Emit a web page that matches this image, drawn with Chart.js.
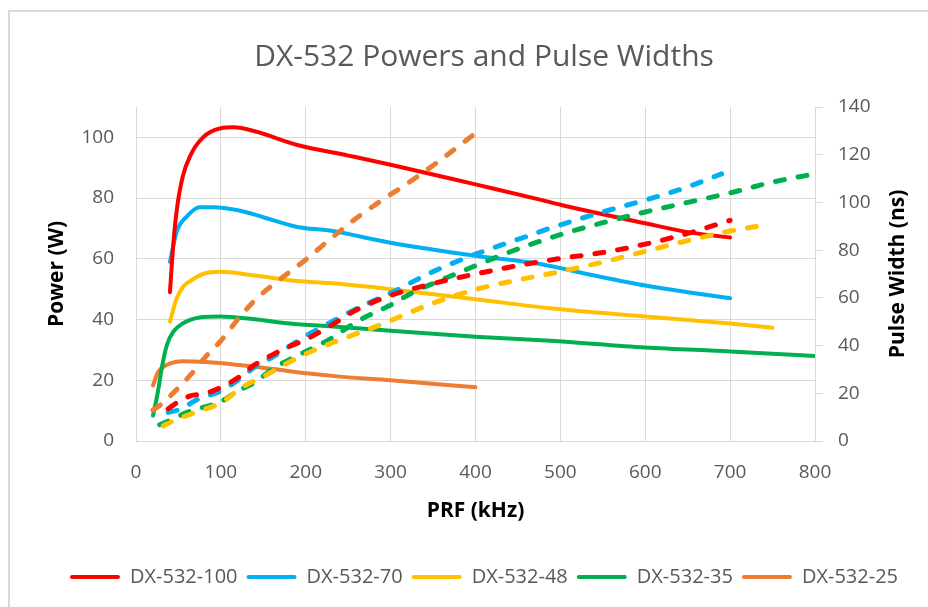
<!DOCTYPE html>
<html>
<head>
<meta charset="utf-8">
<title>DX-532 Powers and Pulse Widths</title>
<script src="https://cdn.jsdelivr.net/npm/chart.js"></script>
<style>
  html, body { margin: 0; padding: 0; background: #fff; overflow: hidden; }
  #wrap { position: relative; width: 928px; height: 607px; }
  #frame { position: absolute; left: 8px; top: 10px; right: -20px; bottom: -20px;
           border: 2px solid #d9d9d9; pointer-events: none; }
</style>
</head>
<body>
<div id="wrap">
  <canvas id="dxChart" width="928" height="607"></canvas>
  <div id="frame"></div>
</div>
<script>
// Series names (legend)
const seriesNames = ['DX-532-100', 'DX-532-70', 'DX-532-48', 'DX-532-35', 'DX-532-25'];
const seriesColors = ['#ff0000', '#00b0f0', '#ffc000', '#00b050', '#ed7d31'];

// Power (W) vs PRF (kHz) - solid lines, left axis
const power100 = [[40, 49], [44, 65], [48, 76], [55, 87], [64, 94], [79, 100], [100, 103], [115, 103.3], [140, 102], [190, 97.5], [250, 94], [300, 91], [400, 84.5], [476, 79.5], [500, 77.8], [600, 71.7], [650, 68.8], [700, 67]];
const power70 = [[40, 59], [48, 69], [60, 74], [75, 77], [91, 77], [120, 76], [150, 73.7], [190, 70.5], [228, 69.3], [300, 65.3], [400, 61], [476, 58.3], [540, 54.5], [600, 51.2], [650, 49], [700, 47]];
const power48 = [[40, 39.3], [48, 47], [56, 51], [64, 52.7], [79, 55], [99, 55.7], [140, 54.5], [190, 52.7], [228, 52], [300, 50], [400, 46.7], [488, 43.7], [600, 41], [700, 38.7], [750, 37.3]];
const power35 = [[20, 8.4], [25, 15], [31, 25], [36.5, 31.7], [44, 36], [55, 38.7], [75, 40.7], [99, 41], [142, 40], [181, 38.7], [232, 37.7], [300, 36.3], [400, 34.3], [488, 33], [600, 30.8], [700, 29.5], [800, 28]];
const power25 = [[20, 18.3], [26, 22.7], [36, 25], [55, 26.3], [83, 26], [122, 25], [162, 23.7], [201, 22.3], [240, 21.2], [300, 20], [400, 17.7]];

// Pulse width (ns) vs PRF (kHz) - dashed lines, right axis
const width100 = [[38, 13.5], [50, 16.5], [65, 19], [80, 19.8], [100, 22.5], [120, 26.5], [140, 32], [160, 36], [180, 39.5], [200, 42.5], [230, 48.5], [260, 55], [300, 61], [350, 66], [400, 70], [450, 73.5], [500, 76.5], [550, 79], [600, 82.5], [650, 87], [700, 92.5]];
const width70 = [[38, 12], [54, 13.5], [70, 17], [100, 21], [120, 25.5], [140, 31], [160, 35], [200, 44], [228, 49.5], [260, 55.5], [300, 62], [350, 71], [400, 78.3], [450, 84.5], [488, 89.2], [550, 96], [600, 101], [650, 106.5], [690, 112]];
const width48 = [[32, 6.3], [45, 8.6], [70, 12], [100, 16], [125, 22.5], [150, 27], [175, 32], [200, 36.5], [230, 41], [260, 45], [290, 49], [320, 53.5], [350, 57.8], [400, 63.5], [450, 67.5], [500, 71], [550, 75], [600, 79.5], [650, 84], [700, 88], [740, 90.5]];
const width35 = [[28, 6.8], [42, 9], [60, 12], [80, 14.2], [100, 16.5], [120, 21], [140, 24.5], [160, 30], [180, 34], [200, 37.5], [228, 42.6], [260, 50], [300, 57], [330, 63], [350, 66], [400, 73.5], [450, 80.5], [500, 86.5], [550, 91.5], [600, 96], [650, 100], [700, 104], [750, 108.5], [800, 112]];
const width25 = [[20, 13], [30, 15.5], [45, 20.5], [65, 28], [85, 36.5], [100, 42], [120, 51], [140, 59], [165, 66.5], [200, 76], [230, 85], [260, 93.5], [290, 101], [320, 108], [350, 115.5], [400, 129]];

const powerSeries = [power100, power70, power48, power35, power25];
const widthSeries = [width100, width70, width48, width35, width25];

const toXY = arr => arr.map(p => ({ x: p[0], y: p[1] }));

Chart.defaults.font.family = "'Open Sans', sans-serif";
Chart.defaults.color = '#595959';

const datasets = [];
powerSeries.forEach((s, i) => {
    datasets.push({
        label: seriesNames[i],
        data: toXY(s),
        yAxisID: 'yPower',
        borderColor: seriesColors[i],
        backgroundColor: seriesColors[i],
        borderWidth: 4,
        borderCapStyle: 'round',
        borderJoinStyle: 'round',
        pointRadius: 0,
        cubicInterpolationMode: 'monotone',
        order: 10 + i
    });
});
widthSeries.forEach((s, i) => {
    datasets.push({
        label: seriesNames[i] + ' pulse width',
        data: toXY(s),
        yAxisID: 'yWidth',
        borderColor: seriesColors[i],
        backgroundColor: seriesColors[i],
        borderWidth: 5,
        borderDash: [9, 14],
        borderCapStyle: 'round',
        borderJoinStyle: 'round',
        pointRadius: 0,
        cubicInterpolationMode: 'monotone',
        order: i
    });
});

// right axis title reads bottom to top, like the left one
const rightTitle = {
    id: 'rightTitle',
    afterDraw(chart) {
        const ctx = chart.ctx;
        ctx.save();
        ctx.translate(898, 274);
        ctx.rotate(-Math.PI / 2);
        ctx.font = "bold 21px 'Open Sans', sans-serif";
        ctx.fillStyle = '#000';
        ctx.textAlign = 'center';
        ctx.textBaseline = 'middle';
        ctx.fillText('Pulse Width (ns)', 0, 0);
        ctx.restore();
    }
};

const ctx = document.getElementById('dxChart').getContext('2d');
const dxChart = new Chart(ctx, {
    type: 'line',
    data: { datasets: datasets },
    plugins: [rightTitle],
    options: {
        responsive: false,
        animation: false,
        layout: { padding: { left: 40, right: 0, top: 0, bottom: 10 } },
        plugins: {
            title: {
                display: true,
                text: 'DX-532 Powers and Pulse Widths',
                color: '#595959',
                font: { size: 30, weight: 'normal' },
                padding: { top: 39, bottom: 32 }
            },
            legend: {
                position: 'bottom',
                labels: {
                    boxWidth: 50,
                    boxHeight: 4,
                    padding: 9,
                    color: '#595959',
                    font: { size: 20 },
                    filter: item => item.datasetIndex < 5,
                    generateLabels(chart) {
                        const items = Chart.defaults.plugins.legend.labels.generateLabels(chart);
                        items.forEach(it => {
                            it.fillStyle = it.strokeStyle;
                            it.lineWidth = 0;
                            it.lineDash = [];
                            it.borderRadius = 2;
                        });
                        return items;
                    }
                }
            },
            tooltip: { enabled: false }
        },
        scales: {
            x: {
                type: 'linear',
                min: 0,
                max: 800,
                ticks: { stepSize: 100, padding: 20, color: '#595959', font: { size: 19 } },
                grid: { color: '#d9d9d9', drawTicks: false },
                border: { color: '#d9d9d9' },
                title: {
                    display: true,
                    text: 'PRF (kHz)',
                    color: '#000',
                    font: { size: 21, weight: 'bold' },
                    padding: { top: 0, bottom: 34 }
                },
                afterFit(scale) { scale.height = 117; }
            },
            yPower: {
                type: 'linear',
                position: 'left',
                min: 0,
                max: 110,
                ticks: { stepSize: 20, includeBounds: false, padding: 22, color: '#595959', font: { size: 19 } },
                grid: { color: '#d9d9d9', drawTicks: false },
                border: { color: '#d9d9d9' },
                title: {
                    display: true,
                    text: 'Power (W)',
                    color: '#000',
                    font: { size: 21, weight: 'bold' },
                    padding: { top: 4, bottom: 0 }
                },
                afterFit(scale) { scale.width = 96; }
            },
            yWidth: {
                type: 'linear',
                position: 'right',
                min: 0,
                max: 140,
                ticks: { stepSize: 20, padding: 15, color: '#595959', font: { size: 19 } },
                grid: { drawOnChartArea: false, drawTicks: true, tickLength: 8, color: '#d9d9d9' },
                border: { color: '#d9d9d9' },
                afterFit(scale) { scale.width = 113; }
            }
        }
    }
});
</script>
</body>
</html>
